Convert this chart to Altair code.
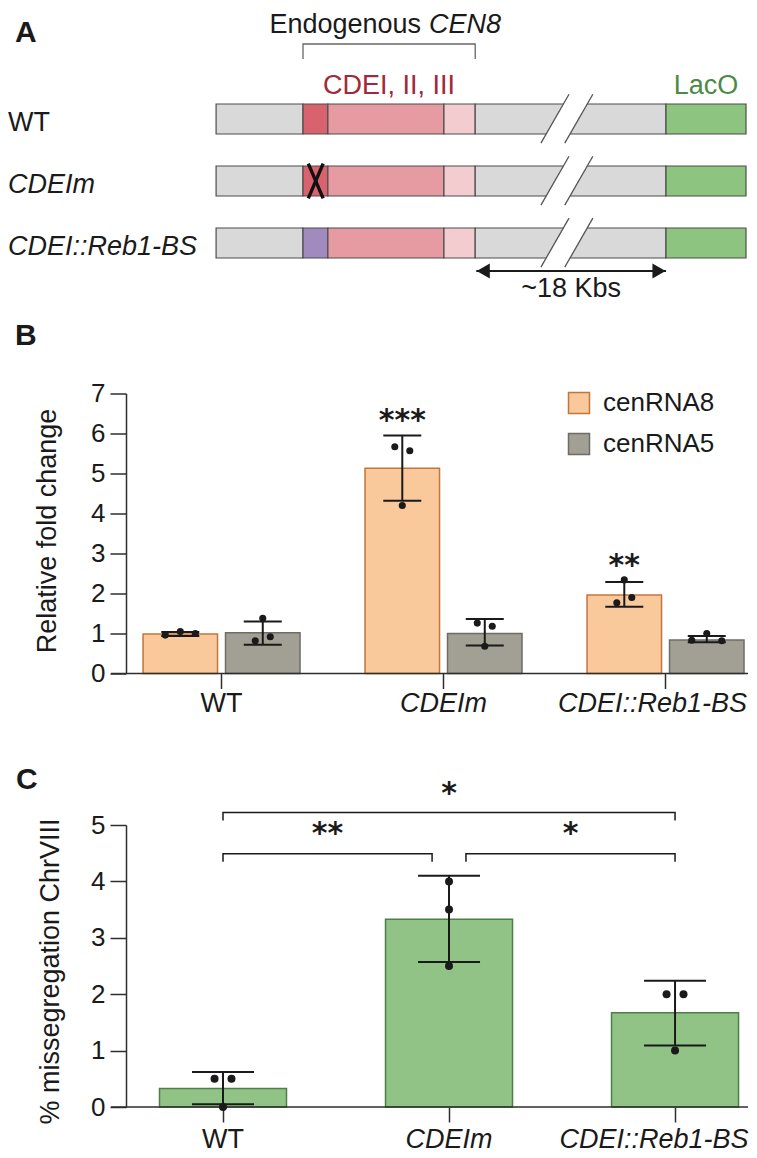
import altair as alt
import pandas as pd

FONT = "Liberation Sans"
STAR_FONT = "DejaVu Sans"
INK = "#1a1a1a"
AXC = "#2e2e2e"

# ---------------- data: panel A (CEN8 locus schematic) ----------------
rows = ["WT", "CDEIm", "CDEI::Reb1-BS"]
row_cdei = ["CDEI", "CDEI", "Reb1-BS"]
seg_part = ["flank", "CDEI", "CDEII", "CDEIII", "flank", "LacO"]
seg_start = [0.0, 16.4, 21.1, 43.0, 48.9, 84.9]
seg_end = [16.4, 21.1, 43.0, 48.9, 84.9, 100.0]
part_names = ["flank", "CDEI", "CDEII", "CDEIII", "Reb1-BS", "LacO"]
part_colors = ["#D9D9D9", "#D8636E", "#E69BA3", "#F3CCD0", "#A18ABD", "#8DC47F"]
break_low = [61.3, 65.8]
break_high = [66.6, 71.1]
mutation_span = [17.4, 20.2]
arrow_span = [49.1, 84.9]
cen_label = "CDEI, II, III"
laco_label = "LacO"
arrow_label = "~18 Kbs"

# ---------------- data: panel B ----------------
groups = ["WT", "CDEIm", "CDEI::Reb1-BS"]
series = ["cenRNA8", "cenRNA5"]
b_mean = {"cenRNA8": [0.99, 5.13, 1.96], "cenRNA5": [1.02, 1.00, 0.84]}
b_low = {"cenRNA8": [0.94, 4.32, 1.67], "cenRNA5": [0.72, 0.70, 0.78]}
b_high = {"cenRNA8": [1.04, 5.95, 2.29], "cenRNA5": [1.30, 1.36, 0.94]}
b_points = {"cenRNA8": [[0.96, 1.05, 1.00], [5.67, 4.20, 5.57], [1.77, 2.34, 1.90]],
            "cenRNA5": [[0.82, 1.38, 0.92], [1.26, 0.68, 1.18], [0.83, 1.00, 0.82]]}
b_jitter = {"cenRNA8": [[-2, 0, 2], [-1, 0, 1], [-1, 0, 1]],
            "cenRNA5": [[-1, 0, 1], [-1, 0, 1], [-2, 0, 2]]}
b_sig = ["", "***", "**"]
b_sig_y = [0.0, 6.51, 2.90]

# ---------------- data: panel C ----------------
c_mean = [0.33, 3.33, 1.67]
c_low = [0.05, 2.57, 1.09]
c_high = [0.62, 4.10, 2.24]
c_points = [[0.5, 0.0, 0.5], [4.0, 3.5, 2.5], [2.0, 1.0, 2.0]]
c_jitter = [[-1, 0, 1], [0, 0, 0], [-1, 0, 1]]
cmp_from = ["WT", "WT", "CDEIm"]
cmp_to = ["CDEI::Reb1-BS", "CDEIm", "CDEI::Reb1-BS"]
cmp_label = ["*", "**", "*"]
cmp_level = [5.22, 4.49, 4.49]
cmp_label_y = [5.70, 4.99, 4.99]

B_FILL = ["#F9C99B", "#A29F95"]
B_EDGE = ["#C4753A", "#6E6C65"]
C_FILL = "#90C385"
C_EDGE = "#4E7F46"

# ======================= Panel A =======================
A_W, A_H = 620, 138
BAR_H = 0.242
xa = alt.Scale(domain=[-17, 100], nice=False, zero=False)
ya = alt.Scale(domain=[-BAR_H, 1.984], nice=False, zero=False, reverse=True)


def AX(f):
    return alt.X(f + ":Q", scale=xa, axis=None)


def AY(f):
    return alt.Y(f + ":Q", scale=ya, axis=None)


seg_df = pd.DataFrame([
    {"row": row, "r": i, "part": (row_cdei[i] if p == "CDEI" else p), "start": s, "end": e}
    for i, row in enumerate(rows) for p, s, e in zip(seg_part, seg_start, seg_end)
])
a_seg = alt.Chart(seg_df).transform_calculate(
    top=f"datum.r - {BAR_H}", bot=f"datum.r + {BAR_H}"
).mark_rect(stroke="#4D4D4D", strokeWidth=1.2).encode(
    x=AX("start"), x2="end", y=AY("top"), y2="bot",
    fill=alt.Fill("part:N", scale=alt.Scale(domain=part_names, range=part_colors), legend=None),
)

SL_B, SL_T = 0.39, 0.40
gap_df = pd.DataFrame(
    [{"r": i, "yy": i + SL_B, "xa": break_low[0], "xb": break_low[1]} for i in range(3)]
    + [{"r": i, "yy": i - SL_T, "xa": break_high[0], "xb": break_high[1]} for i in range(3)]
)
a_gap = alt.Chart(gap_df).mark_area(orient="horizontal", color="white", opacity=1).encode(
    y=AY("yy"), x=AX("xa"), x2="xb", detail="r:N"
)
slash_df = pd.DataFrame(
    [{"lid": f"{i}-{k}", "lx": break_low[k], "ly": i + SL_B} for i in range(3) for k in range(2)]
    + [{"lid": f"{i}-{k}", "lx": break_high[k], "ly": i - SL_T} for i in range(3) for k in range(2)]
)
a_slash = alt.Chart(slash_df).mark_line(color="#555555", strokeWidth=1.3).encode(
    x=AX("lx"), y=AY("ly"), detail="lid:N"
)
mi = rows.index("CDEIm")
mut_df = pd.DataFrame([
    {"lid": "a", "lx": mutation_span[0], "ly": mi - 0.28},
    {"lid": "a", "lx": mutation_span[1], "ly": mi + 0.28},
    {"lid": "b", "lx": mutation_span[1], "ly": mi - 0.28},
    {"lid": "b", "lx": mutation_span[0], "ly": mi + 0.28},
])
a_mut = alt.Chart(mut_df).mark_line(color="#111111", strokeWidth=3.4).encode(
    x=AX("lx"), y=AY("ly"), detail="lid:N"
)
cen_lo, cen_hi = seg_start[1], seg_end[3]
br_df = pd.DataFrame({"bx": [cen_lo, cen_lo, cen_hi, cen_hi],
                      "by": [-0.968, -1.21, -1.21, -0.968], "o": [0, 1, 2, 3]})
a_br = alt.Chart(br_df).mark_line(color="#666666", strokeWidth=1.3).encode(
    x=AX("bx"), y=AY("by"), order="o:Q"
)
arr_df = pd.DataFrame({"x0": [arrow_span[0]], "x1": [arrow_span[1]], "ya": [2.452]})
a_arr = alt.Chart(arr_df).mark_rule(color=INK, strokeWidth=1.8).encode(
    x=AX("x0"), x2="x1", y=AY("ya")
)
a_hl = alt.Chart(arr_df).mark_point(shape="triangle-left", filled=True, size=230, color=INK,
                                    opacity=1, xOffset=7).encode(x=AX("x0"), y=AY("ya"))
a_hr = alt.Chart(arr_df).mark_point(shape="triangle-right", filled=True, size=230, color=INK,
                                    opacity=1, xOffset=-7).encode(x=AX("x1"), y=AY("ya"))

cde_mid = (cen_lo + cen_hi) / 2
lac_mid = (seg_start[5] + seg_end[5]) / 2
arr_mid = (arrow_span[0] + arrow_span[1]) / 2
lab_df = pd.DataFrame({"txt": [cen_label, laco_label, arrow_label],
                       "tx": [cde_mid, lac_mid, arr_mid],
                       "ty": [-0.54, -0.54, 2.75],
                       "kind": ["cen", "laco", "arrow"]})
a_lab = alt.Chart(lab_df).mark_text(align="center", baseline="middle", fontSize=27).encode(
    x=AX("tx"), y=AY("ty"), text="txt:N",
    color=alt.Color("kind:N", scale=alt.Scale(domain=["cen", "laco", "arrow"],
                                              range=["#A3293A", "#4C8A45", INK]), legend=None),
)
endo_df = pd.DataFrame({"tx": [cde_mid], "ty": [-1.516], "a": ["Endogenous"], "b": ["CEN8"]})
a_endo1 = alt.Chart(endo_df).mark_text(align="right", baseline="middle", fontSize=27, dx=32,
                                       color=INK).encode(x=AX("tx"), y=AY("ty"), text="a:N")
a_endo2 = alt.Chart(endo_df).mark_text(align="left", baseline="middle", fontSize=27, dx=40,
                                       fontStyle="italic", color=INK).encode(
    x=AX("tx"), y=AY("ty"), text="b:N")
rowlab_df = pd.DataFrame({"row": rows, "r": list(range(3))})
a_row1 = alt.Chart(rowlab_df).transform_filter("datum.row == 'WT'").mark_text(
    align="left", baseline="middle", fontSize=27, dy=4, color=INK).encode(
    x=alt.value(-118), y=AY("r"), text="row:N")
a_row2 = alt.Chart(rowlab_df).transform_filter("datum.row != 'WT'").mark_text(
    align="left", baseline="middle", fontSize=27, dy=4, color=INK, fontStyle="italic").encode(
    x=alt.value(-118), y=AY("r"), text="row:N")
a_letter = alt.Chart(pd.DataFrame({"panel": ["A"]})).mark_text(
    align="left", baseline="middle", fontSize=30, fontWeight="bold", color=INK).encode(
    x=alt.value(-111), y=alt.value(-71), text="panel:N")

panel_a = alt.layer(a_seg, a_gap, a_slash, a_mut, a_br, a_arr, a_hl, a_hr, a_lab,
                    a_endo1, a_endo2, a_row1, a_row2, a_letter).properties(width=A_W, height=A_H)

# ======================= shared axis helpers =======================
italic_rule = alt.condition("datum.value == 'WT'", alt.value("normal"), alt.value("italic"))


def x_axis(shift, pad):
    return alt.Axis(title=None, labelAngle=0, domain=False, grid=False, ticks=True, tickSize=15,
                    tickWidth=1.5, tickColor=AXC, labelFontSize=27, labelColor=INK,
                    labelPadding=pad, labelLimit=0, labelFontStyle=italic_rule,
                    labelOffset=alt.condition("datum.value == 'CDEI::Reb1-BS'",
                                              alt.value(shift), alt.value(0)))


def y_axis(title, n, tx, ty):
    return alt.Axis(title=title, values=list(range(n + 1)), grid=False, domainColor=AXC,
                    domainWidth=1.5, tickColor=AXC, tickWidth=1.5, tickSize=16,
                    labelFontSize=26, labelColor=INK, labelPadding=5, titleFontSize=27,
                    titleFontWeight="normal", titleColor=INK, titleX=tx, titleY=ty,
                    titleAngle=270, titleAlign="center", titleBaseline="middle")


# ======================= Panel B =======================
B_W, B_H = 622, 280
slots_b = [f"{s}|{j}" for s in series for j in range(-5, 6)]
xb_scale = alt.Scale(domain=groups, paddingInner=0.257, paddingOuter=0.0294, align=1)
xb_axis = x_axis(-13, 2)
yb_scale = alt.Scale(domain=[0, 7], nice=False, zero=True)
yb_axis = y_axis("Relative fold change", 7, -79, 137)


def XB():
    return alt.X("group:N", sort=groups, scale=xb_scale, axis=xb_axis)


def XOB():
    return alt.XOffset("slot:N", scale=alt.Scale(domain=slots_b, paddingInner=0, paddingOuter=0))


def YB(f):
    return alt.Y(f + ":Q", scale=yb_scale, axis=yb_axis)


b_bar_df = pd.DataFrame([
    {"group": g, "series": s, "mean": b_mean[s][gi], "lo": b_low[s][gi], "hi": b_high[s][gi],
     "slot": f"{s}|0"}
    for gi, g in enumerate(groups) for s in series
])
b_pt_df = pd.DataFrame([
    {"group": g, "series": s, "v": v, "slot": f"{s}|{j}"}
    for gi, g in enumerate(groups) for s in series
    for v, j in zip(b_points[s][gi], b_jitter[s][gi])
])
b_sig_df = pd.DataFrame([
    {"group": g, "slot": "cenRNA8|0", "lab": lab, "v": y}
    for g, lab, y in zip(groups, b_sig, b_sig_y) if lab
])
b_legend = alt.Legend(title=None, orient="none", legendX=440, legendY=-3.5, symbolType="square",
                      symbolSize=441, symbolStrokeWidth=1.5, symbolOpacity=1, labelFontSize=26,
                      labelColor=INK, labelOffset=11, rowPadding=13, padding=0)
b_bars = alt.Chart(b_bar_df).mark_bar(width=74.5, strokeWidth=1.5).encode(
    x=XB(), xOffset=XOB(), y=YB("mean"),
    fill=alt.Fill("series:N", scale=alt.Scale(domain=series, range=B_FILL), legend=b_legend),
    stroke=alt.Stroke("series:N", scale=alt.Scale(domain=series, range=B_EDGE), legend=b_legend),
)
b_zero = alt.Chart(pd.DataFrame({"zero": [0.0]})).mark_rule(color=AXC, strokeWidth=1.5).encode(
    y=YB("zero"), x=alt.value(-15), x2=alt.value(B_W))
b_err = alt.Chart(b_bar_df).mark_rule(color=INK, strokeWidth=2).encode(
    x=XB(), xOffset=XOB(), y=YB("lo"), y2="hi")
b_caps = alt.Chart(b_bar_df).transform_fold(["lo", "hi"], as_=["end", "v"]).mark_tick(
    color=INK, thickness=2, size=38, opacity=1).encode(x=XB(), xOffset=XOB(), y=YB("v"))
b_pts = alt.Chart(b_pt_df).mark_circle(size=50, color=INK, opacity=1).encode(
    x=XB(), xOffset=XOB(), y=YB("v"))
b_stars = alt.Chart(b_sig_df).mark_text(font=STAR_FONT, fontWeight="bold", fontSize=30,
                                        baseline="middle", dy=8, color=INK).encode(
    x=XB(), xOffset=XOB(), y=YB("v"), text="lab:N")
b_letter = alt.Chart(pd.DataFrame({"panel": ["B"]})).mark_text(
    align="left", baseline="middle", fontSize=30, fontWeight="bold", color=INK).encode(
    x=alt.value(-111), y=alt.value(-58), text="panel:N")

panel_b = alt.layer(b_bars, b_zero, b_err, b_caps, b_pts, b_stars, b_letter).properties(
    width=B_W, height=B_H)

# ======================= Panel C =======================
C_W, C_H = 622, 282
C_STEP = 226.0
C_BAND = 127.0
slots_c = list(range(-7, 8))
SLOT_W = C_BAND / len(slots_c)
xc_scale = alt.Scale(domain=groups, paddingInner=0.438, paddingOuter=0.095, align=0.78)
xc_axis = x_axis(-21, 4)
yc_scale = alt.Scale(domain=[0, 5], nice=False, zero=True)
yc_axis = y_axis("% missegregation ChrVIII", 5, -76, 146)


def XC():
    return alt.X("group:N", sort=groups, scale=xc_scale, axis=xc_axis)


def XOC():
    return alt.XOffset("slot:N", scale=alt.Scale(domain=slots_c, paddingInner=0, paddingOuter=0))


def YC(f):
    return alt.Y(f + ":Q", scale=yc_scale, axis=yc_axis)


c_bar_df = pd.DataFrame({"group": groups, "mean": c_mean, "lo": c_low, "hi": c_high,
                         "slot": [0, 0, 0]})
c_pt_df = pd.DataFrame([
    {"group": g, "v": v, "slot": j}
    for gi, g in enumerate(groups) for v, j in zip(c_points[gi], c_jitter[gi])
])

DROP = 0.14
br_rows = []
star_layers = []
for k, (gf, gt, lev) in enumerate(zip(cmp_from, cmp_to, cmp_level)):
    same_level = [i for i in range(len(cmp_level)) if cmp_level[i] == lev and i != k]
    sf = 2 if any(cmp_to[i] == gf for i in same_level) else 0
    st = -2 if any(cmp_from[i] == gt for i in same_level) else 0
    for o, (g, s, v) in enumerate([(gf, sf, lev - DROP), (gf, sf, lev), (gt, st, lev),
                                   (gt, st, lev - DROP)]):
        br_rows.append({"cid": k, "group": g, "slot": s, "v": v, "o": o})
    span = (groups.index(gt) - groups.index(gf)) * C_STEP
    dx = span / 2 + (sf + st) * SLOT_W / 2
    sdf = pd.DataFrame({"group": [gf], "lab": [cmp_label[k]], "v": [cmp_label_y[k]]})
    star_layers.append(
        alt.Chart(sdf).mark_text(font=STAR_FONT, fontWeight="bold", fontSize=30,
                                 baseline="middle", dy=8, dx=dx, color=INK).encode(
            x=XC(), y=YC("v"), text="lab:N"))
br_df_c = pd.DataFrame(br_rows)

c_bars = alt.Chart(c_bar_df).mark_bar(fill=C_FILL, stroke=C_EDGE, strokeWidth=1.5,
                                      width=C_BAND).encode(
    x=XC(), xOffset=XOC(), y=YC("mean"))
c_zero = alt.Chart(pd.DataFrame({"zero": [0.0]})).mark_rule(color=AXC, strokeWidth=1.5).encode(
    y=YC("zero"), x=alt.value(-15), x2=alt.value(C_W))
c_err = alt.Chart(c_bar_df).mark_rule(color=INK, strokeWidth=2).encode(
    x=XC(), xOffset=XOC(), y=YC("lo"), y2="hi")
c_caps = alt.Chart(c_bar_df).transform_fold(["lo", "hi"], as_=["end", "v"]).mark_tick(
    color=INK, thickness=2, size=62, opacity=1).encode(x=XC(), xOffset=XOC(), y=YC("v"))
c_pts = alt.Chart(c_pt_df).mark_circle(size=64, color=INK, opacity=1).encode(
    x=XC(), xOffset=XOC(), y=YC("v"))
c_br = alt.Chart(br_df_c).mark_line(color=INK, strokeWidth=1.5).encode(
    x=XC(), xOffset=XOC(), y=YC("v"), detail="cid:N", order="o:Q")
c_letter = alt.Chart(pd.DataFrame({"panel": ["C"]})).mark_text(
    align="left", baseline="middle", fontSize=30, fontWeight="bold", color=INK).encode(
    x=alt.value(-110), y=alt.value(-45), text="panel:N")

panel_c = alt.layer(c_bars, c_zero, c_err, c_caps, c_pts, c_br, *star_layers, c_letter).properties(
    width=C_W, height=C_H)

chart = alt.vconcat(panel_a, panel_b, panel_c, spacing=151.5, bounds="flush").resolve_scale(
    x="independent", y="independent", xOffset="independent", fill="independent",
    stroke="independent", color="independent"
).resolve_legend(fill="independent", stroke="independent", color="independent").properties(
    padding={"left": 0, "top": 3, "right": 0, "bottom": 0}
).configure(font=FONT).configure_view(stroke=None).configure_axis(
    labelFont=FONT, titleFont=FONT
).configure_legend(labelFont=FONT).configure_text(font=FONT)

chart.save("out.html", embed_options={"renderer": "svg", "actions": False})
